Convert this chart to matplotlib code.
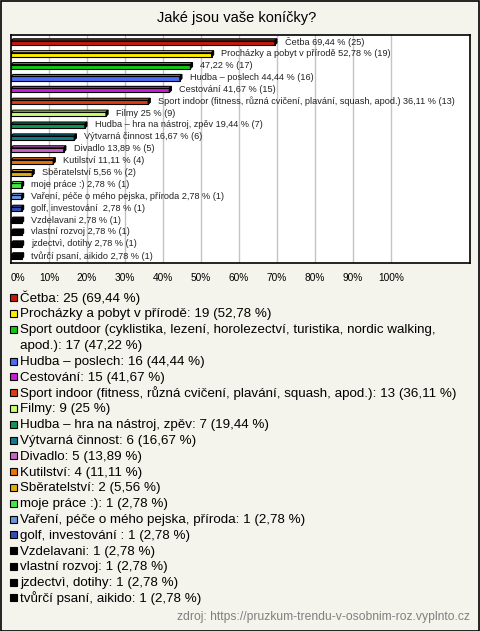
import textwrap
import matplotlib
matplotlib.use("Agg")
import matplotlib.pyplot as plt
from matplotlib.patches import Rectangle, Polygon

# ---------------- data ----------------
title = "Jaké jsou vaše koníčky?"
categories = [
    "Četba",
    "Procházky a pobyt v přírodě",
    "Sport outdoor (cyklistika, lezení, horolezectví, turistika, nordic walking, apod.)",
    "Hudba – poslech",
    "Cestování",
    "Sport indoor (fitness, různá cvičení, plavání, squash, apod.)",
    "Filmy",
    "Hudba – hra na nástroj, zpěv",
    "Výtvarná činnost",
    "Divadlo",
    "Kutilství",
    "Sběratelství",
    "moje práce :)",
    "Vaření, péče o mého pejska, příroda",
    "golf, investování ",
    "Vzdelavani",
    "vlastní rozvoj",
    "jzdectvì, dotihy",
    "tvůrčí psaní, aikido",
]
counts = [25, 19, 17, 16, 15, 13, 9, 7, 6, 5, 4, 2, 1, 1, 1, 1, 1, 1, 1]
percents = [69.44, 52.78, 47.22, 44.44, 41.67, 36.11, 25, 19.44, 16.67, 13.89,
            11.11, 5.56, 2.78, 2.78, 2.78, 2.78, 2.78, 2.78, 2.78]
# names shown next to bars (the long outdoor one is omitted in the original)
bar_names = categories[:2] + [""] + categories[3:]
colors = ["#c41a0c", "#ffea00", "#11c811", "#4a6cf0", "#c81ed8", "#de3c10",
          "#c8ff6e", "#12955a", "#127c8c", "#c864c8", "#e8740e", "#e0ac10",
          "#44e844", "#6a96de", "#3050b8", "#000000", "#000000", "#000000", "#000000"]
xticks = [0, 10, 20, 30, 40, 50, 60, 70, 80, 90, 100]
xtick_labels = [f"{t}%" for t in xticks]
source = "zdroj: https://pruzkum-trendu-v-osobnim-roz.vyplnto.cz"


def fmt(p):
    s = f"{p:.2f}".rstrip("0").rstrip(".")
    return s.replace(".", ",")


plt.rcParams["font.family"] = ["Liberation Sans", "DejaVu Sans"]

W, H = 480, 631
BG = "#f4f3ec"
fig = plt.figure(figsize=(W / 100, H / 100), dpi=100, facecolor=BG)


def fx(x):
    return x / W


def fy(y):
    return 1 - y / H


# outer border
fig.patches.append(Rectangle((0.5 / W, 0.5 / H), (W - 1.5) / W, (H - 1.5) / H,
                             transform=fig.transFigure, fill=False,
                             edgecolor="black", lw=1.2))

fig.text(fx(237), fy(18), title, ha="center", va="center", fontsize=10.5)

# ---------------- bar chart ----------------
left, right, top, bottom = 11, 470, 35, 263
ax = fig.add_axes([fx(left), fy(bottom), (right - left) / W, (bottom - top) / H])
ax.set_facecolor("white")
n = len(categories)
ax.set_ylim(n - 1 + 0.59, -0.59)
ax.set_xlim(0, 120.8)
for t in xticks[1:]:
    ax.axvline(t, color="#c4c4c4", lw=1, zorder=0)

y = list(range(n))
fh = 0.34
dx, dy = 0.55, 0.17
ax.barh([i + 0.07 for i in y], percents, height=fh, color=colors,
        edgecolor="black", lw=0.8, zorder=3)
for i, v in enumerate(percents):
    yt = i + 0.07 - fh / 2
    ax.add_patch(Polygon([(0, yt), (v, yt), (v + dx, yt - dy), (dx, yt - dy)],
                         closed=True, facecolor=colors[i], edgecolor="black",
                         lw=0.8, zorder=3))
    ax.add_patch(Polygon([(v, yt), (v + dx, yt - dy), (v + dx, yt + fh - dy),
                          (v, yt + fh)], closed=True, facecolor="black",
                         edgecolor="black", lw=0.8, zorder=3))
    name = bar_names[i]
    lab = (f"{name} " if name else "") + f"{fmt(v)} % ({counts[i]})"
    ax.text(v + 2.6, i - 0.02, lab, va="center", ha="left", fontsize=6.6,
            color="#222222", zorder=4)

ax.set_yticks([])
ax.set_xticks(xticks)
ax.set_xticklabels(xtick_labels, fontsize=7.3)
ax.get_xticklabels()[0].set_horizontalalignment("left")
ax.tick_params(axis="x", length=0, pad=7)
for s in ax.spines.values():
    s.set_color("black")
    s.set_linewidth(1.2)

# ---------------- legend ----------------
ly = 297.7
step = 15.8
for i, cat in enumerate(categories):
    lab = f"{cat}: {counts[i]} ({fmt(percents[i])} %)"
    lines = textwrap.wrap(lab, width=76)
    fig.patches.append(Rectangle((fx(10), fy(ly + 3.6)), 7 / W, 7 / H,
                                 transform=fig.transFigure,
                                 facecolor=colors[i], edgecolor="black", lw=0.8))
    for k, line in enumerate(lines):
        fig.text(fx(20), fy(ly + 4.0), line, ha="left", va="baseline",
                 fontsize=9.6)
        if k < len(lines) - 1:
            ly += step
    ly += step

fig.text(fx(470), fy(617), source, ha="right", va="center", fontsize=8.7,
         color="#808080")

fig.savefig("out.png", dpi=100, facecolor=BG)
